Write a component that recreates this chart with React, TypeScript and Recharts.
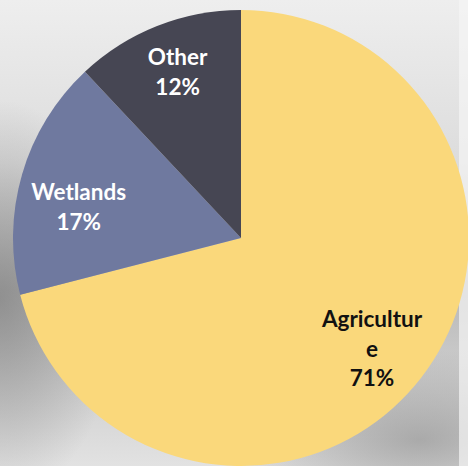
import { Cell, Pie, PieChart } from "recharts";

const categories = ["Agriculture", "Wetlands", "Other"];
const shares = [71, 17, 12];
// label text as it is broken in the original slide
const labelLines = [["Agricultur", "e", "71%"], ["Wetlands", "17%"], ["Other", "12%"]];
const colors = ["#FAD87B", "#6F799F", "#464653"];
const textColors = ["#111111", "#FFFFFF", "#FFFFFF"];
// small label nudges (px) like the slide's best-fit placement
const labelNudge = [[-5, 4], [3, 16], [0, -7]];

const data = categories.map((name, i) => ({ name, value: shares[i] }));

const RAD = Math.PI / 180;

function SliceLabel(props: any) {
  const { cx, cy, midAngle, outerRadius, index } = props;
  const r = outerRadius * 0.755;
  const x = cx + r * Math.cos(-midAngle * RAD) + labelNudge[index][0];
  const y = cy + r * Math.sin(-midAngle * RAD) + labelNudge[index][1];
  const lines = labelLines[index];
  const lh = 29.5;
  const top = y - ((lines.length - 1) * lh) / 2;
  return (
    <text
      x={x}
      y={top}
      fill={textColors[index]}
      textAnchor="middle"
      dominantBaseline="central"
      fontFamily="Lato, 'Open Sans', sans-serif"
      fontWeight={700}
      fontSize={22.5}
    >
      {lines.map((t, i) => (
        <tspan key={i} x={x} y={top + i * lh}>
          {t}
        </tspan>
      ))}
    </text>
  );
}

export default function App() {
  return (
    <div
      style={{
        position: "fixed",
        left: 0,
        top: 0,
        width: 468,
        height: 466,
        overflow: "hidden",
        background:
          "radial-gradient(ellipse 120px 200px at 0px 300px, rgba(110,110,110,0.55), rgba(110,110,110,0) 100%)," +
          "radial-gradient(ellipse 200px 90px at 420px 440px, rgba(120,120,120,0.5), rgba(120,120,120,0) 100%)," +
          "linear-gradient(180deg, #eeeeee 0%, #dcdcdc 35%, #b8b8b8 62%, #cfcfcf 82%, #e2e2e2 100%)",
      }}
    >
      <div
        style={{
          position: "absolute",
          left: 459,
          top: 0,
          width: 9,
          height: 466,
          background: "rgba(245,245,245,0.7)",
        }}
      />
      <div style={{ position: "absolute", left: 0, top: 0 }}>
        <PieChart width={468} height={466} margin={{ top: 0, right: 0, bottom: 0, left: 0 }}>
          <Pie
            data={data}
            dataKey="value"
            nameKey="name"
            cx={241}
            cy={238}
            outerRadius={228}
            startAngle={90}
            endAngle={-270}
            stroke="none"
            labelLine={false}
            label={SliceLabel}
            isAnimationActive={false}
          >
            {data.map((d, i) => (
              <Cell key={d.name} fill={colors[i]} />
            ))}
          </Pie>
        </PieChart>
      </div>
    </div>
  );
}
